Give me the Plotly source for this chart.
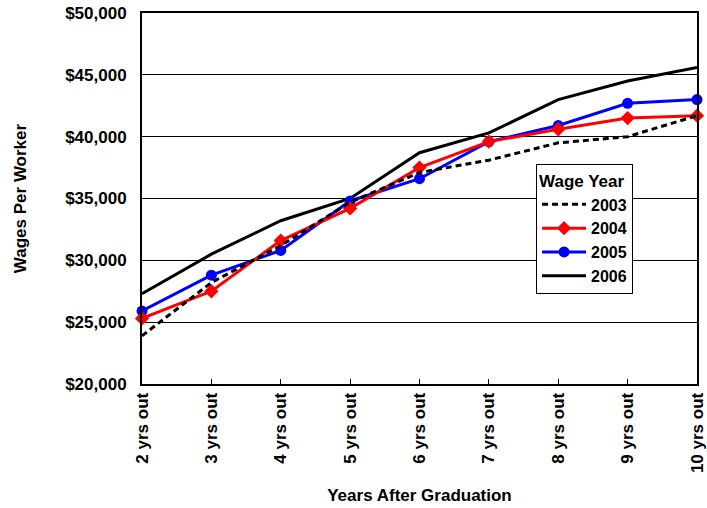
import plotly.graph_objects as go

years = ["2 yrs out", "3 yrs out", "4 yrs out", "5 yrs out", "6 yrs out",
         "7 yrs out", "8 yrs out", "9 yrs out", "10 yrs out"]
w2003 = [23900, 28200, 31200, 34700, 37100, 38100, 39500, 40000, 41700]
w2004 = [25300, 27500, 31600, 34200, 37500, 39600, 40600, 41500, 41700]
w2005 = [25900, 28800, 30800, 34800, 36600, 39600, 40900, 42700, 43000]
w2006 = [27300, 30500, 33200, 35000, 38700, 40300, 43000, 44500, 45600]

FONT = "Liberation Sans, Arial, sans-serif"

fig = go.Figure()
fig.add_trace(go.Scatter(x=years, y=w2006, name="2006", mode="lines",
                         line=dict(color="black", width=3), cliponaxis=False))
fig.add_trace(go.Scatter(x=years, y=w2005, name="2005", mode="lines+markers",
                         line=dict(color="#0000ff", width=3),
                         marker=dict(symbol="circle", size=11, color="#0000ff"),
                         cliponaxis=False))
fig.add_trace(go.Scatter(x=years, y=w2004, name="2004", mode="lines+markers",
                         line=dict(color="#ff0000", width=3),
                         marker=dict(symbol="diamond", size=11, color="#ff0000"),
                         cliponaxis=False))
fig.add_trace(go.Scatter(x=years, y=w2003, name="2003", mode="lines",
                         line=dict(color="black", width=3, dash="6px,4px"),
                         cliponaxis=False))

fig.update_layout(
    width=707, height=508,
    margin=dict(l=142, r=10, t=13, b=124, autoexpand=False),
    paper_bgcolor="white", plot_bgcolor="white",
    font=dict(family=FONT, size=17, color="black", weight="bold"),
    showlegend=True,
    legend=dict(
        title=dict(text="Wage Year", font=dict(size=17, weight="bold")),
        traceorder="reversed",
        x=0.71, y=0.592, xanchor="left", yanchor="top",
        bgcolor="white", bordercolor="black", borderwidth=1,
        font=dict(size=16, weight="bold"),
        itemwidth=44, tracegroupgap=0,
    ),
    xaxis=dict(
        type="category", range=[0, 8], automargin=False,
        showline=True, mirror=True, linecolor="black", linewidth=2,
        showgrid=False,
        ticks="inside", ticklen=5, tickcolor="black",
        tickangle=-90,
        tickfont=dict(size=17, weight="bold"),
        title=dict(text="Years After Graduation", standoff=17,
                   font=dict(size=17, weight="bold")),
    ),
    yaxis=dict(
        range=[20000, 50000], dtick=5000, tickformat="$,.0f", automargin=False,
        showline=True, mirror=True, linecolor="black", linewidth=2,
        showgrid=True, gridcolor="black", gridwidth=1,
        ticks="", zeroline=False,
        tickfont=dict(size=17, weight="bold"),
        ticklabelstandoff=10,
        title=dict(text="Wages Per Worker", standoff=34,
                   font=dict(size=17, weight="bold")),
    ),
)

fig.write_html(
    "out.html",
    config={"displayModeBar": False},
    post_script="document.body.style.margin='0';document.body.style.overflow='hidden';",
)
